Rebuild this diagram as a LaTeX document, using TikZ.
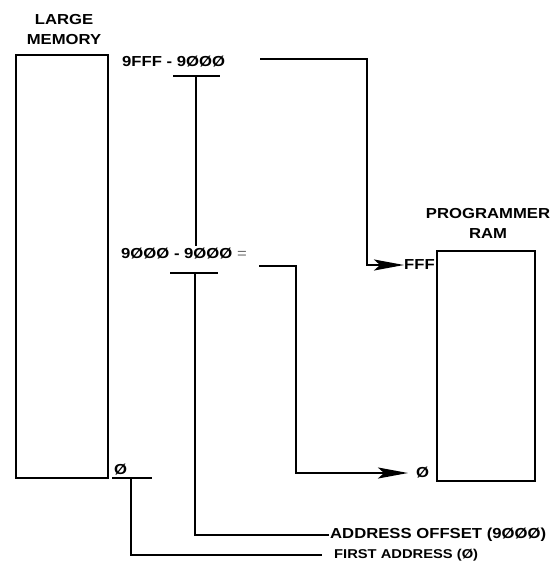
\documentclass[tikz,border=0pt]{standalone}
\usepackage{fontspec}
\setmainfont{Liberation Sans}[FakeStretch=1.15]
\usetikzlibrary{arrows.meta}
\tikzset{
  wire/.style={line width=2.2pt},
  arr/.style={wire,-{Stealth[length=30pt,width=11pt,inset=6pt]}},
  lab/.style={font=\bfseries\fontsize{14.5}{16}\selectfont,inner sep=0pt},
  lablight/.style={font=\bfseries\fontsize{12.8}{15}\selectfont,inner sep=0pt},
}
\begin{document}
\begin{tikzpicture}[x=1pt,y=-1pt]
\useasboundingbox (0,0) rectangle (558,565);
% boxes
\node[draw,line width=2.2pt,minimum width=92pt,minimum height=423pt,inner sep=0pt] (lm) at (62,266.5) {};
\node[draw,line width=2.2pt,minimum width=98pt,minimum height=230pt,inner sep=0pt] (ram) at (486,366) {};
% titles
\node[lab,align=center] (lmt) at (64,30) {LARGE\\[4pt]MEMORY};
\node[lab,align=center] (ramt) at (488,223) {PROGRAMMER\\[4pt]RAM};
% address texts
\node[lab,anchor=west] (t1) at (122,62) {9FFF - 9ØØØ};
\node[lab,anchor=west] (t2) at (121,254) {9ØØØ - 9ØØØ \textmd{\color{black!60}=}};
\node[lab,anchor=west] (fff) at (404,265) {FFF};
\node[lab,anchor=west] (z1) at (416,473) {Ø};
\node[lab,anchor=west] (z0) at (114,470) {Ø};
\node[lab,anchor=west,inner xsep=1pt] (addr) at (329,535) {ADDRESS OFFSET (9ØØØ)};
\node[lablight,anchor=west,inner xsep=12pt] (first) at (322,555) {FIRST ADDRESS (Ø)};
% bars
\coordinate (b1l) at (173,76); \coordinate (b1r) at (220,76); \coordinate (b1m) at (196,76);
\coordinate (b2l) at (170,273); \coordinate (b2r) at (218,273); \coordinate (b2m) at (195,273);
\coordinate (v1e) at (196,246);
\coordinate (b0l) at (112,478); \coordinate (b0r) at (152,478); \coordinate (b0m) at (131,478);
\draw[wire] (b1l) -- (b1r);
\draw[wire] (b1m) -- (v1e);
\draw[wire] (b2l) -- (b2r);
\draw[wire] (b2m) |- (addr.west);
\draw[wire] (b0l) -- (b0r);
\draw[wire] (b0m) |- (first.west);
% arrows to programmer RAM
\coordinate (a1s) at (260,59); \coordinate (a1c) at (367,265);
\draw[arr] (a1s) -| (a1c) -- (fff.west);
\coordinate (a2s) at (259,266); \coordinate (a2c) at (296,473);
\draw[arr] (a2s) -| (a2c) -- ([xshift=-8pt]z1.west);
\end{tikzpicture}
\end{document}
